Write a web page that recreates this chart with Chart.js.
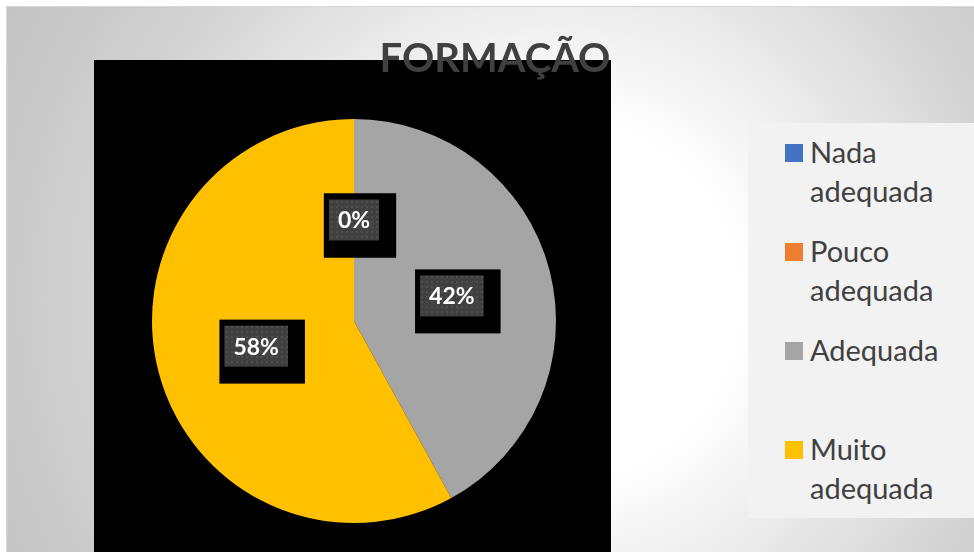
<!DOCTYPE html>
<html>
<head>
<meta charset="utf-8">
<script src="https://cdn.jsdelivr.net/npm/chart.js@4.4.1/dist/chart.umd.min.js"></script>
<style>
  body { margin: 0; background: #fff; }
  #wrap { position: relative; width: 974px; height: 552px; overflow: hidden; }
  #legend { position: absolute; left: 748px; top: 123px; width: 226px; height: 395px; background: #f2f2f2;
            font-family: Lato, sans-serif; font-size: 29px; line-height: 39px; color: #404040; }
  .item { position: absolute; left: 37px; width: 190px; }
  .sq { position: absolute; left: 0; top: 12px; width: 18px; height: 18px; }
  .txt { position: absolute; left: 25px; width: 160px; }
</style>
</head>
<body>
<div id="wrap">
  <canvas id="chart" width="974" height="552"></canvas>
  <div id="legend"></div>
</div>
<script>
/* Dados */

const chartTitle = 'FORMAÇÃO'
const categories = ['Nada adequada', 'Pouco adequada', 'Adequada', 'Muito adequada']
const values = [0, 0, 42, 58]
const colors = ['#4472c4', '#ed7d31', '#a5a5a5', '#ffc000']

/* Fundo, area preta e titulo */

const frame = {
  id: 'frame',
  beforeDraw(chart) {
    const c = chart.ctx
    const w = chart.width, h = chart.height
    c.save()
    c.fillStyle = '#fff'
    c.fillRect(0, 0, w, h)
    const g = c.createRadialGradient(560, 300, 0, 560, 300, 640)
    g.addColorStop(0, '#ffffff')
    g.addColorStop(0.28, '#ffffff')
    g.addColorStop(0.42, '#f1f1f1')
    g.addColorStop(0.72, '#d2d2d2')
    g.addColorStop(1, '#c2c2c2')
    c.fillStyle = g
    c.fillRect(7, 7, w - 7, h - 7)
    c.strokeStyle = '#d6d6d6'
    c.lineWidth = 1
    c.beginPath()
    c.moveTo(6.5, h)
    c.lineTo(6.5, 6.5)
    c.lineTo(w, 6.5)
    c.stroke()
    c.fillStyle = '#000'
    c.fillRect(94, 60, 517, h - 60)
    c.restore()
  },
  afterDraw(chart) {
    const c = chart.ctx
    c.save()
    c.font = 'bold 40px Lato'
    c.fillStyle = '#404040'
    c.textAlign = 'center'
    c.textBaseline = 'alphabetic'
    c.fillText(chartTitle, 495, 72)
    c.restore()
  }
}

/* Rotulos de dados */

function dotPattern(ctx) {
  const p = document.createElement('canvas')
  p.width = 5
  p.height = 5
  const pc = p.getContext('2d')
  pc.fillStyle = '#404040'
  pc.fillRect(0, 0, 5, 5)
  pc.fillStyle = '#4f4f4f'
  pc.fillRect(1, 1, 2, 2)
  return ctx.createPattern(p, 'repeat')
}

const dataLabels = {
  id: 'dataLabels',
  afterDatasetsDraw(chart) {
    const c = chart.ctx
    const meta = chart.getDatasetMeta(0)
    const data = chart.data.datasets[0].data
    const total = data.reduce((a, b) => a + b, 0)
    const pattern = dotPattern(c)
    c.save()
    c.font = 'bold 23px Lato'
    c.textAlign = 'center'
    c.textBaseline = 'middle'
    meta.data.forEach((arc, i) => {
      const p = arc.getProps(['x', 'y', 'startAngle', 'endAngle', 'outerRadius'], true)
      const mid = (p.startAngle + p.endAngle) / 2
      const x = p.x + Math.cos(mid) * p.outerRadius * 0.5
      const y = p.y + Math.sin(mid) * p.outerRadius * 0.5
      const label = Math.round(data[i] / total * 100) + '%'
      const tw = c.measureText(label).width
      const bw = tw + 18, bh = 41
      const bx = x - bw / 2, by = y - bh / 2
      c.fillStyle = '#000'
      c.fillRect(bx - 5, by - 6, bw + 22, bh + 23)
      c.fillStyle = pattern
      c.fillRect(bx, by, bw, bh)
      c.fillStyle = '#fff'
      c.fillText(label, x, y + 1)
    })
    c.restore()
  }
}

/* Grafico */

const ctx = document.querySelector('#chart').getContext('2d')
const myChart = new Chart(ctx, {
  type: 'pie',
  data: {
    labels: categories,
    datasets: [{
      data: values,
      backgroundColor: colors,
      borderWidth: 0
    }]
  },
  options: {
    responsive: false,
    animation: false,
    layout: {
      padding: { left: 152, top: 119, right: 418, bottom: 29 }
    },
    plugins: {
      legend: { display: false },
      title: { display: false },
      tooltip: { enabled: false }
    }
  },
  plugins: [frame, dataLabels]
})

/* Legenda */

const legend = document.querySelector('#legend')
categories.forEach((name, i) => {
  const item = document.createElement('div')
  item.className = 'item'
  item.style.top = (9 + 99 * i) + 'px'
  item.innerHTML = '<div class="sq" style="background:' + colors[i] + '"></div><div class="txt">' + name + '</div>'
  legend.appendChild(item)
})
</script>
</body>
</html>
